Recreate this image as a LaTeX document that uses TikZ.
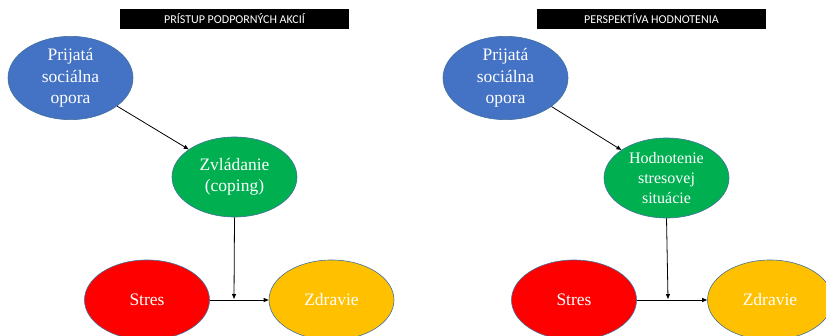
\documentclass[tikz,border=0pt]{standalone}
\usepackage{fontspec}
\setmainfont{Liberation Serif}
\newfontfamily\titlefont{Carlito}
\usetikzlibrary{shapes.geometric,arrows.meta}
\definecolor{ovalblue}{HTML}{4472C4}
\definecolor{ovalgreen}{HTML}{00B050}
\definecolor{ovalred}{HTML}{FF0000}
\definecolor{ovalyellow}{HTML}{FFC000}
\definecolor{ovalrim}{HTML}{41719C}
\tikzset{
  oval/.style={ellipse, draw=ovalrim, line width=0.6pt, minimum width=125pt,
    minimum height=80pt, inner sep=0pt, align=center, text=white,
    font=\fontsize{17.5}{21.5}\selectfont},
  banner/.style={fill=black, text=white, minimum width=229pt, minimum height=20pt,
    inner sep=0pt, font=\titlefont\fontsize{12}{14}\selectfont},
  link/.style={draw=black, line width=0.8pt, -{Triangle[length=5pt,width=4pt]}}
}
\begin{document}
\begin{tikzpicture}[x=1pt,y=-1pt]
  \clip (0,0) rectangle (826,336);
  \fill[white] (0,0) rectangle (826,336);

  % left panel: support actions
  \node[banner] (tl) at (234.5,19) {PRÍSTUP PODPORNÝCH AKCIÍ};
  \node[oval, fill=ovalblue] (ls) at (70.5,78) {Prijatá\\sociálna\\opora};
  \node[oval, fill=ovalgreen] (lc) at (234.5,177) {Zvládanie\\(coping)};
  \node[oval, fill=ovalred] (lst) at (147,300) {Stres};
  \node[oval, fill=ovalyellow] (lz) at (331.5,300) {Zdravie};
  \coordinate (lm) at (234,299);
  \draw[link] (ls) -- (lc);
  \draw[link] (lst) -- (lz);
  \draw[link] (lc.south) -- (lm);

  % right panel: appraisal perspective
  \node[banner] (tr) at (651.5,19) {PERSPEKTÍVA HODNOTENIA};
  \node[oval, fill=ovalblue] (rs) at (505.5,78) {Prijatá\\sociálna\\opora};
  \node[oval, fill=ovalgreen, font=\fontsize{16}{20}\selectfont] (ra) at (666.5,178) {Hodnotenie\\stresovej\\situácie};
  \node[oval, fill=ovalred] (rst) at (574,300) {Stres};
  \node[oval, fill=ovalyellow] (rz) at (770,300) {Zdravie};
  \coordinate (rm) at (668,299);
  \draw[link] (rs) -- (ra);
  \draw[link] (rst) -- (rz);
  \draw[link] (ra.south) -- (rm);
\end{tikzpicture}
\end{document}
